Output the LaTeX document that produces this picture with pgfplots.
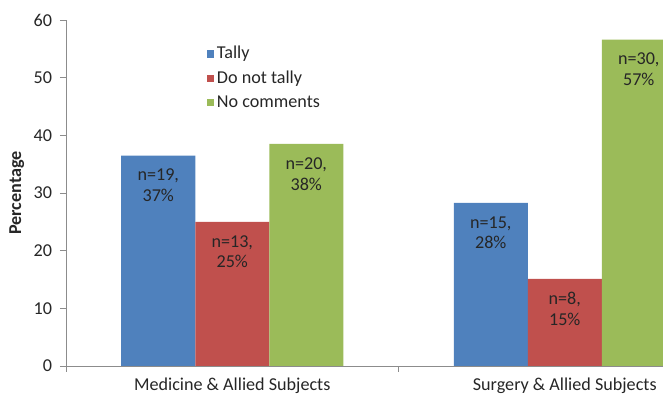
\documentclass[border=0pt]{standalone}
\usepackage{fontspec}
\setmainfont{Carlito}
\usepackage{pgfplots}
\pgfplotsset{compat=1.18}
\definecolor{xblue}{HTML}{4F81BD}
\definecolor{xred}{HTML}{C0504D}
\definecolor{xgreen}{HTML}{9BBB59}
\definecolor{axgray}{HTML}{8C8C8C}
\definecolor{txt}{HTML}{262626}
\begin{document}
\begin{tikzpicture}[font=\fontsize{13.6}{15.5}\selectfont]
\clip (-49.5pt,-21.75pt) rectangle (447.75pt,274.5pt);
\begin{axis}[
  at={(0,0)}, anchor=south west,
  scale only axis, width=498.75pt, height=259.5pt,
  xmin=-0.5, xmax=1.5, ymin=0, ymax=60,
  axis lines*=left,
  axis line style={draw=axgray, line width=0.6pt},
  tick style={draw=axgray, line width=0.6pt},
  tick align=outside, major tick length=4.5pt,
  ytick={0,10,...,60},
  yticklabel style={xshift=-2.5pt},
  xtick={-0.5,0.5,1.5}, xticklabels={},
  extra x ticks={0,1},
  extra x tick labels={Medicine \& Allied Subjects, Surgery \& Allied Subjects},
  extra x tick style={major tick length=0pt, tick label style={yshift=-5.5pt}},
  tick label style={text=txt},
  /pgf/number format/assume math mode=true,
  ylabel={\textbf{Percentage}},
  ylabel style={at={(axis description cs:-0.074,0.5)}, anchor=center, text=txt},
  ybar=0pt, bar width=55.5pt,
  nodes near coords, point meta=explicit symbolic,
  every node near coord/.append style={anchor=north, align=center, text width=40pt, inner sep=0pt, yshift=-10pt, text=txt},
  legend image code/.code={\fill[#1] (0pt,-2.9pt) rectangle (5.8pt,2.9pt);},
  legend style={at={(rel axis cs:0.205,0.94)}, anchor=north west, draw=none, fill=none,
    row sep=3.6pt, text=txt, font=\fontsize{13.6}{15}\selectfont},
  legend cell align=left,
]
\addplot[fill=xblue, draw=none, bar shift=-55.5pt] coordinates {(0,36.5)[n=19, 37\%] (1,28.3)[n=15, 28\%]};
\addplot[fill=xred, draw=none, bar shift=0pt] coordinates {(0,25.0)[n=13, 25\%] (1,15.1)[n=8, 15\%]};
\addplot[fill=xgreen, draw=none, bar shift=55.5pt] coordinates {(0,38.5)[n=20, 38\%] (1,56.6)[n=30, 57\%]};
\legend{Tally, Do not tally, No comments}
\end{axis}
\end{tikzpicture}
\end{document}
